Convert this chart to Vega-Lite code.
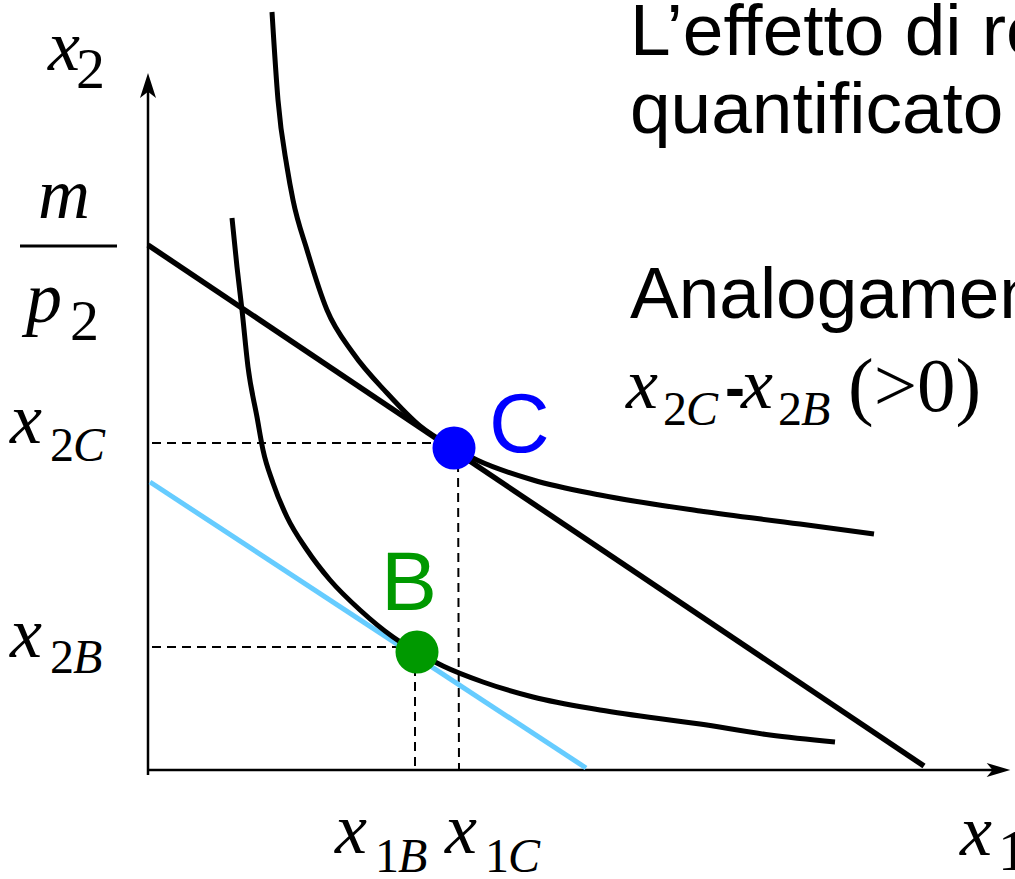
{
  "$schema": "https://vega.github.io/schema/vega-lite/v6.json",
  "width": 1015,
  "height": 879,
  "padding": 0,
  "autosize": {"type": "none"},
  "background": "white",
  "config": {"view": {"stroke": null}},
  "encoding": {
    "x": {"field": "x", "type": "quantitative", "scale": {"domain": [-148, 867], "nice": false, "zero": false}, "axis": null},
    "y": {"field": "y", "type": "quantitative", "scale": {"domain": [-109, 770], "nice": false, "zero": false}, "axis": null}
  },
  "layer": [
    {
      "data": {"values": [
        {"x": 0, "y": -5, "x2": 0, "y2": 690},
        {"x": 0, "y": 0, "x2": 855, "y2": 0}
      ]},
      "mark": {"type": "rule", "color": "black", "strokeWidth": 2.5},
      "encoding": {"x2": {"field": "x2"}, "y2": {"field": "y2"}}
    },
    {
      "data": {"values": [{"x": 0, "y": 684.5}]},
      "mark": {"type": "point", "shape": "M0,-1L0.64,1L0,0.5L-0.64,1Z", "filled": true, "color": "black", "size": 625, "opacity": 1, "strokeWidth": 0}
    },
    {
      "data": {"values": [{"x": 850.5, "y": 0}]},
      "mark": {"type": "point", "shape": "M0,-1L0.6,1L0,0.5L-0.6,1Z", "filled": true, "color": "black", "size": 560, "angle": 90, "opacity": 1, "strokeWidth": 0}
    },
    {
      "data": {"values": [
        {"x": 4, "y": 327, "x2": 306, "y2": 327},
        {"x": 310, "y": 322, "x2": 311, "y2": 0},
        {"x": 4, "y": 123, "x2": 269, "y2": 123},
        {"x": 267, "y": 118, "x2": 267, "y2": 0}
      ]},
      "mark": {"type": "rule", "color": "black", "strokeWidth": 2, "strokeDash": [9, 6]},
      "encoding": {"x2": {"field": "x2"}, "y2": {"field": "y2"}}
    },
    {
      "data": {"values": [{"x": 2, "y": 288, "x2": 438, "y2": 2}]},
      "mark": {"type": "rule", "color": "#66CCFF", "strokeWidth": 5},
      "encoding": {"x2": {"field": "x2"}, "y2": {"field": "y2"}}
    },
    {
      "data": {"values": [{"x": 0, "y": 525, "x2": 776, "y2": 4}]},
      "mark": {"type": "rule", "color": "black", "strokeWidth": 5.5},
      "encoding": {"x2": {"field": "x2"}, "y2": {"field": "y2"}}
    },
    {
      "data": {"values": [{"x": -128, "y": 524, "x2": -31, "y2": 524}]},
      "mark": {"type": "rule", "color": "black", "strokeWidth": 3},
      "encoding": {"x2": {"field": "x2"}, "y2": {"field": "y2"}}
    },
    {
      "data": {"values": [
        {"curve": "U2", "x": 124, "y": 758},
        {"curve": "U2", "x": 130, "y": 670},
        {"curve": "U2", "x": 139, "y": 603},
        {"curve": "U2", "x": 145, "y": 570},
        {"curve": "U2", "x": 159, "y": 520},
        {"curve": "U2", "x": 179, "y": 460},
        {"curve": "U2", "x": 205, "y": 417},
        {"curve": "U2", "x": 239, "y": 377},
        {"curve": "U2", "x": 272, "y": 344},
        {"curve": "U2", "x": 306, "y": 322},
        {"curve": "U2", "x": 329, "y": 310},
        {"curve": "U2", "x": 385, "y": 290},
        {"curve": "U2", "x": 452, "y": 275},
        {"curve": "U2", "x": 552, "y": 259},
        {"curve": "U2", "x": 652, "y": 246},
        {"curve": "U2", "x": 726, "y": 236},
        {"curve": "U1", "x": 84, "y": 552},
        {"curve": "U1", "x": 89, "y": 503},
        {"curve": "U1", "x": 94, "y": 460},
        {"curve": "U1", "x": 100, "y": 403},
        {"curve": "U1", "x": 109, "y": 353},
        {"curve": "U1", "x": 115, "y": 320},
        {"curve": "U1", "x": 125, "y": 287},
        {"curve": "U1", "x": 139, "y": 253},
        {"curve": "U1", "x": 159, "y": 220},
        {"curve": "U1", "x": 182, "y": 190},
        {"curve": "U1", "x": 212, "y": 160},
        {"curve": "U1", "x": 245, "y": 133},
        {"curve": "U1", "x": 269, "y": 118},
        {"curve": "U1", "x": 295, "y": 104},
        {"curve": "U1", "x": 335, "y": 88},
        {"curve": "U1", "x": 385, "y": 73},
        {"curve": "U1", "x": 452, "y": 60},
        {"curve": "U1", "x": 552, "y": 46},
        {"curve": "U1", "x": 622, "y": 35},
        {"curve": "U1", "x": 687, "y": 28}
      ]},
      "mark": {"type": "line", "color": "black", "strokeWidth": 5, "interpolate": "monotone"},
      "encoding": {"detail": {"field": "curve", "type": "nominal"}}
    },
    {
      "data": {"values": [
        {"x": 306, "y": 322, "label": "C"},
        {"x": 269, "y": 118, "label": "B"}
      ]},
      "mark": {"type": "point", "shape": "circle", "filled": true, "opacity": 1, "size": 1850, "strokeWidth": 0},
      "encoding": {"color": {"field": "label", "type": "nominal", "scale": {"domain": ["C", "B"], "range": ["#0000FF", "#009900"]}, "legend": null}}
    },
    {
      "data": {"values": [
        {"x": 341, "y": 318, "label": "C"},
        {"x": 233, "y": 160, "label": "B"}
      ]},
      "mark": {"type": "text", "font": "Liberation Sans", "fontSize": 84, "align": "left", "baseline": "alphabetic"},
      "encoding": {"text": {"field": "label"}, "color": {"field": "label", "type": "nominal", "legend": null}}
    },
    {
      "data": {"values": [
        {"x": -100, "y": 700, "t": "x"},
        {"x": -110, "y": 552, "t": "m"},
        {"x": -122, "y": 448, "t": "p"},
        {"x": -138, "y": 327, "t": "x"},
        {"x": -138, "y": 113, "t": "x"},
        {"x": 187, "y": -83, "t": "x"},
        {"x": 297, "y": -83, "t": "x"},
        {"x": 812, "y": -85, "t": "x"},
        {"x": 478, "y": 362, "t": "x"},
        {"x": 593, "y": 362, "t": "x"}
      ]},
      "mark": {"type": "text", "font": "Liberation Serif", "fontStyle": "italic", "fontSize": 72, "align": "left", "baseline": "alphabetic", "color": "black"},
      "encoding": {"text": {"field": "t"}}
    },
    {
      "data": {"values": [
        {"x": -72, "y": 682, "t": "2"},
        {"x": -78, "y": 430, "t": "2"},
        {"x": 850, "y": -100, "t": "1"}
      ]},
      "mark": {"type": "text", "font": "Liberation Serif", "fontSize": 58, "align": "left", "baseline": "alphabetic", "color": "black"},
      "encoding": {"text": {"field": "t"}}
    },
    {
      "data": {"values": [
        {"x": -98, "y": 309, "t": "2"},
        {"x": -98, "y": 97, "t": "2"},
        {"x": 227, "y": -102, "t": "1"},
        {"x": 337, "y": -102, "t": "1"},
        {"x": 515, "y": 345, "t": "2"},
        {"x": 630, "y": 345, "t": "2"}
      ]},
      "mark": {"type": "text", "font": "Liberation Serif", "fontSize": 48, "align": "left", "baseline": "alphabetic", "color": "black"},
      "encoding": {"text": {"field": "t"}}
    },
    {
      "data": {"values": [
        {"x": -75, "y": 309, "t": "C"},
        {"x": -75, "y": 97, "t": "B"},
        {"x": 250, "y": -102, "t": "B"},
        {"x": 360, "y": -102, "t": "C"},
        {"x": 538, "y": 345, "t": "C"},
        {"x": 653, "y": 345, "t": "B"}
      ]},
      "mark": {"type": "text", "font": "Liberation Serif", "fontStyle": "italic", "fontSize": 48, "align": "left", "baseline": "alphabetic", "color": "black"},
      "encoding": {"text": {"field": "t"}}
    },
    {
      "data": {"values": [{"x": 700, "y": 359, "t": "(>0)"}]},
      "mark": {"type": "text", "font": "Liberation Serif", "fontSize": 77, "align": "left", "baseline": "alphabetic", "color": "black"},
      "encoding": {"text": {"field": "t"}}
    },
    {
      "data": {"values": [{"x": 577, "y": 362, "t": "-"}]},
      "mark": {"type": "text", "font": "Liberation Sans", "fontWeight": "bold", "fontSize": 60, "align": "left", "baseline": "alphabetic", "color": "black"},
      "encoding": {"text": {"field": "t"}}
    },
    {
      "data": {"values": [
        {"x": 482, "y": 715, "t": "L’effetto di reddito"},
        {"x": 482, "y": 637, "t": "quantificato come"},
        {"x": 482, "y": 452, "t": "Analogamente"}
      ]},
      "mark": {"type": "text", "font": "Liberation Sans", "fontSize": 73, "align": "left", "baseline": "alphabetic", "color": "black"},
      "encoding": {"text": {"field": "t"}}
    }
  ]
}
